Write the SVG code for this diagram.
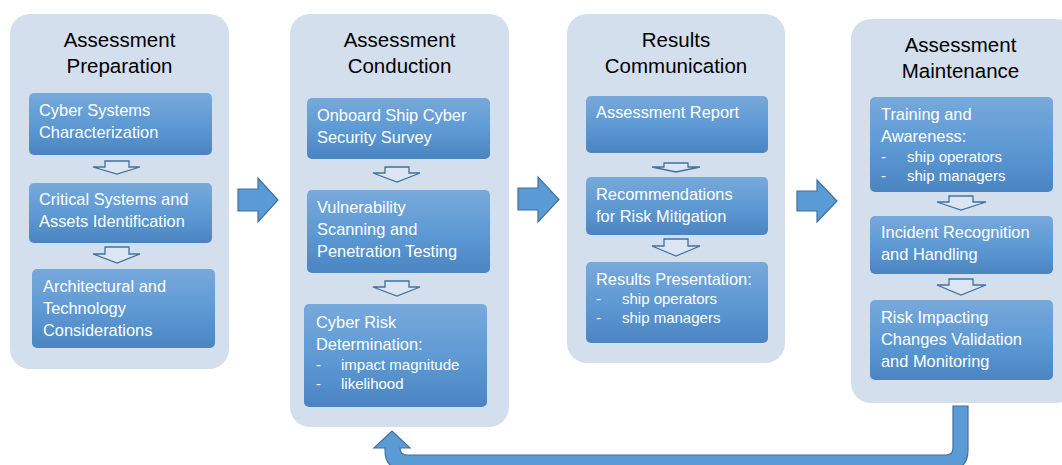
<svg xmlns="http://www.w3.org/2000/svg" width="1062" height="465" viewBox="0 0 1062 465">
<defs>
<linearGradient id="boxGrad" x1="0" y1="0" x2="0" y2="1">
<stop offset="0" stop-color="#78A9DB"/>
<stop offset="0.5" stop-color="#5E9AD4"/>
<stop offset="1" stop-color="#4A85C2"/>
</linearGradient>
<style>
.panel{fill:#D4DFEE}
.box{fill:url(#boxGrad)}
.title{font-family:"Liberation Sans",Arial,sans-serif;font-size:20.5px;fill:#000;text-anchor:middle}
.t{font-family:"Liberation Sans",Arial,sans-serif;font-size:16.4px;fill:#fff}
.b{font-family:"Liberation Sans",Arial,sans-serif;font-size:15px;fill:#fff}
.hollow{fill:#DCE6F2;stroke:#41719C;stroke-width:1.3}
.big{fill:#5B9BD5;stroke:#41719C;stroke-width:1.2}
</style>
</defs>
<rect width="1062" height="465" fill="#fff"/>

<g id="panel-preparation">
<rect class="panel" x="10" y="14" width="219" height="355" rx="20"/>
<text class="title" x="119.5" y="47">Assessment</text>
<text class="title" x="119.5" y="73">Preparation</text>
<g id="n-cyber-systems"><rect class="box" x="29" y="93" width="183" height="62" rx="5"/>
<text class="t" x="39" y="116">Cyber Systems</text><text class="t" x="39" y="138">Characterization</text></g>
<path class="hollow" d="M105 161 H129 V167 H140 L117 174 L93 167 H105 Z"/>
<g id="n-critical"><rect class="box" x="29" y="183" width="183" height="60" rx="5"/>
<text class="t" x="39" y="205">Critical Systems and</text><text class="t" x="39" y="227">Assets Identification</text></g>
<path class="hollow" d="M105 247 H129 V254 H140 L117 263 L93 254 H105 Z"/>
<g id="n-architectural"><rect class="box" x="32" y="269" width="183" height="79" rx="5"/>
<text class="t" x="43" y="292">Architectural and</text><text class="t" x="43" y="314">Technology</text><text class="t" x="43" y="336">Considerations</text></g>
</g>

<g id="panel-conduction">
<rect class="panel" x="290" y="14" width="219" height="413" rx="20"/>
<text class="title" x="399.5" y="47">Assessment</text>
<text class="title" x="399.5" y="73">Conduction</text>
<g id="n-survey"><rect class="box" x="307" y="98" width="183" height="61" rx="5"/>
<text class="t" x="317" y="121">Onboard Ship Cyber</text><text class="t" x="317" y="143">Security Survey</text></g>
<path class="hollow" d="M385 167 H409 V173 H420 L397 182 L373 173 H385 Z"/>
<g id="n-vulnerability"><rect class="box" x="307" y="190" width="183" height="83" rx="5"/>
<text class="t" x="317" y="213">Vulnerability</text><text class="t" x="317" y="235">Scanning and</text><text class="t" x="317" y="257">Penetration Testing</text></g>
<path class="hollow" d="M385 281 H409 V287 H420 L397 296 L373 287 H385 Z"/>
<g id="n-risk"><rect class="box" x="304" y="304" width="183" height="103" rx="5"/>
<text class="t" x="316" y="328">Cyber Risk</text><text class="t" x="316" y="350">Determination:</text>
<text class="b" x="316" y="370">-</text><text class="b" x="341" y="370">impact magnitude</text>
<text class="b" x="316" y="389">-</text><text class="b" x="341" y="389">likelihood</text></g>
</g>

<g id="panel-communication">
<rect class="panel" x="567" y="14" width="218" height="349" rx="20"/>
<text class="title" x="676" y="47">Results</text>
<text class="title" x="676" y="73">Communication</text>
<g id="n-report"><rect class="box" x="586" y="96" width="182" height="57" rx="5"/>
<text class="t" x="596" y="118">Assessment Report</text></g>
<path class="hollow" d="M664 163 H688 V167 H700 L676 172 L652 167 H664 Z"/>
<g id="n-recommendations"><rect class="box" x="586" y="177" width="182" height="58" rx="5"/>
<text class="t" x="596" y="200">Recommendations</text><text class="t" x="596" y="222">for Risk Mitigation</text></g>
<path class="hollow" d="M664 239 H688 V246 H700 L676 256 L652 246 H664 Z"/>
<g id="n-presentation"><rect class="box" x="586" y="262" width="182" height="81" rx="5"/>
<text class="t" x="596" y="285">Results Presentation:</text>
<text class="b" x="596" y="304">-</text><text class="b" x="622" y="304">ship operators</text>
<text class="b" x="596" y="323">-</text><text class="b" x="622" y="323">ship managers</text></g>
</g>

<g id="panel-maintenance">
<rect class="panel" x="851" y="19" width="225" height="384" rx="20"/>
<text class="title" x="960.5" y="52">Assessment</text>
<text class="title" x="960.5" y="78">Maintenance</text>
<g id="n-training"><rect class="box" x="870" y="97" width="183" height="95" rx="5"/>
<text class="t" x="881" y="120">Training and</text><text class="t" x="881" y="142">Awareness:</text>
<text class="b" x="881" y="162">-</text><text class="b" x="907" y="162">ship operators</text>
<text class="b" x="881" y="181">-</text><text class="b" x="907" y="181">ship managers</text></g>
<path class="hollow" d="M949 196 H973 V202 H986 L961 210 L937 202 H949 Z"/>
<g id="n-incident"><rect class="box" x="870" y="216" width="183" height="58" rx="5"/>
<text class="t" x="881" y="238">Incident Recognition</text><text class="t" x="881" y="260">and Handling</text></g>
<path class="hollow" d="M949 279 H973 V285 H986 L961 295 L937 285 H949 Z"/>
<g id="n-changes"><rect class="box" x="870" y="300" width="183" height="80" rx="5"/>
<text class="t" x="881" y="323">Risk Impacting</text><text class="t" x="881" y="345">Changes Validation</text><text class="t" x="881" y="367">and Monitoring</text></g>
</g>

<g id="connectors">
<path class="big" d="M238 189 H258 V178 L278 200 L258 222 V211 H238 Z"/>
<path class="big" d="M518 188 H538 V177 L559 199.5 L538 222 V210 H518 Z"/>
<path class="big" d="M797 191 H817 V180 L837 201 L817 222 V211 H797 Z"/>
<path class="big" d="M953 406 H968 V450 Q968 470 948 470 H405 Q385 470 385 450 V448 H374 L392 431 L410 448 H400 Q400 455 407 455 H946 Q953 455 953 448 Z"/>
</g>
</svg>
